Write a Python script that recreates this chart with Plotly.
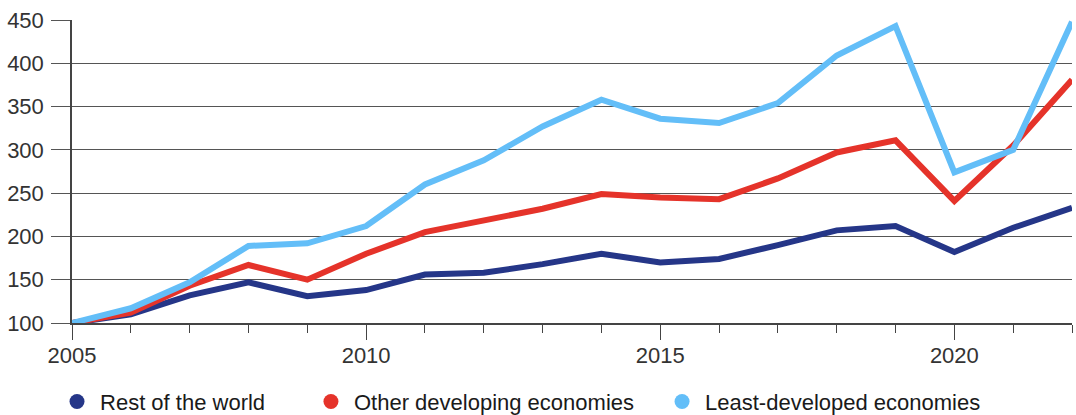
import plotly.graph_objects as go

years = list(range(2005, 2023))
rest_of_world = [100, 110, 132, 147, 131, 138, 156, 158, 168, 180, 170, 174, 190, 207, 212, 182, 210, 233]
other_developing = [100, 112, 143, 167, 150, 180, 205, 219, 232, 249, 245, 243, 267, 297, 311, 241, 305, 381]
least_developed = [100, 117, 147, 189, 192, 212, 260, 288, 327, 358, 336, 331, 354, 409, 443, 274, 300, 448]

names = ["Rest of the world", "Other developing economies", "Least-developed economies"]
colors = ["#253688", "#E5332A", "#63BEF8"]
series = [rest_of_world, other_developing, least_developed]
legend_ids = ["legend", "legend2", "legend3"]
legend_x = [0.0502, 0.2862, 0.6125]

fig = go.Figure()
for name, col, vals in zip(names, colors, series):
    fig.add_trace(go.Scatter(x=years, y=vals, mode="lines", name=name,
                             line=dict(color=col, width=6), showlegend=False))
# legend entries drawn as dots, one legend each so they sit where the original has them
for name, col, lid in zip(names, colors, legend_ids):
    fig.add_trace(go.Scatter(x=[None], y=[None], mode="markers", name=name, legend=lid,
                             marker=dict(color=col, size=15)))

leg = dict(orientation="h", xref="container", yref="container", xanchor="left",
           y=0.032, yanchor="middle",
           font=dict(size=22, color="#1a1a1a"), itemwidth=36, bgcolor="rgba(0,0,0,0)")
fig.update_layout(
    width=1076, height=415,
    margin=dict(l=72, r=4, t=20, b=92),
    plot_bgcolor="white", paper_bgcolor="white",
    font=dict(family="Liberation Sans, Arial, sans-serif", size=22, color="#333333"),
    legend=dict(leg, x=legend_x[0]),
    legend2=dict(leg, x=legend_x[1]),
    legend3=dict(leg, x=legend_x[2]),
    xaxis=dict(range=[2005, 2022], tick0=2005, dtick=5, ticks="outside", ticklen=15,
               tickcolor="#444444", showline=True, linecolor="#444444", linewidth=1.5,
               showgrid=False, zeroline=False, automargin=False, ticklabelstandoff=-3,
               minor=dict(dtick=1, tick0=2005, ticks="outside", ticklen=8, tickcolor="#444444")),
    yaxis=dict(range=[100, 450], dtick=50, ticks="outside", ticklen=19,
               tickcolor="#555555", showline=True, linecolor="#444444", linewidth=1.5,
               showgrid=True, gridcolor="#555555", gridwidth=1, zeroline=False,
               automargin=False, ticklabelstandoff=3),
)

# drop the page's default body margin so the figure sits at the window's corner
fig.write_html("out.html", config={"displayModeBar": False},
               post_script="document.body.style.margin='0';")
